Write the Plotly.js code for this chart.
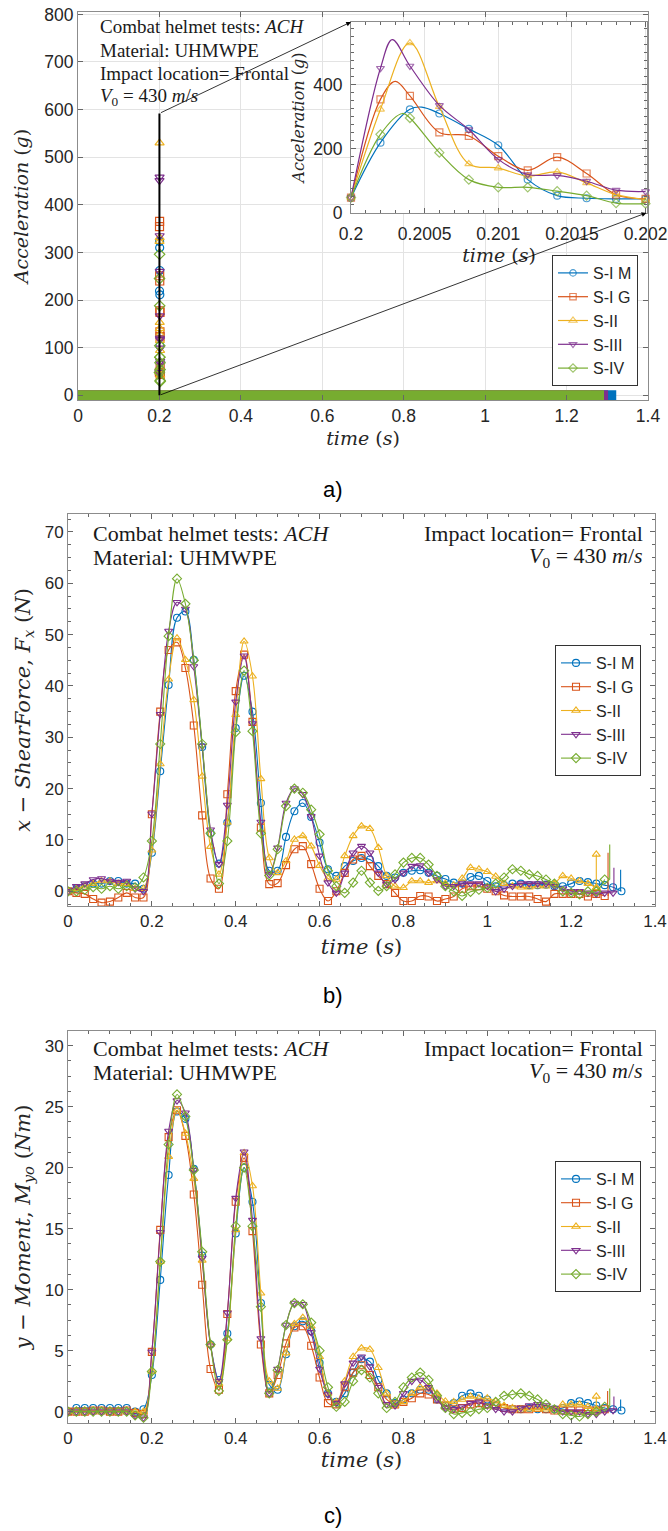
<!DOCTYPE html>
<html><head><meta charset="utf-8">
<script src="https://cdn.plot.ly/plotly-3.0.1.min.js"></script>
<style>html,body{margin:0;padding:0;background:#fff}#chart{width:668px;height:1531px}</style>
</head><body><div id="chart"></div>
<script>
// ---------------- DATA ----------------
const seriesNames = ['S-I M','S-I G','S-II','S-III','S-IV'];

// shared time grid for panels b) and c) (s)
const tGrid = [0,0.02,0.04,0.06,0.08,0.1,0.12,0.14,0.16,0.18,0.2,0.22,0.24,0.26,0.28,0.3,0.32,0.34,0.36,0.38,0.4,0.42,0.44,0.46,0.48,0.5,0.52,0.54,0.56,0.58,0.6,0.62,0.64,0.66,0.68,0.7,0.72,0.74,0.76,0.78,0.8,0.82,0.84,0.86,0.88,0.9,0.92,0.94,0.96,0.98,1,1.02,1.04,1.06,1.08,1.1,1.12,1.14,1.16,1.18,1.2,1.22,1.24,1.26,1.28,1.3,1.32];

// b) x - shear force Fx (N)
const bSIM  = [0,0.5,1,1.5,1.5,2,2,1.5,1.5,0.5, 7.5,23.4,40.2,53.3,54.5,45.1,28.1,11.3,5.4,13.4, 31.8,42,35,17.2,4,4,10.6,15.6,17.2,14.5, 9.5,4.3,3,4.9,5.9,6.5,6.2,4.9,3,2.7, 3.6,4,4.1,3.6,3,2.4,1.7,1.5,2.8,3, 2,1,1.2,1.5,1.5,1.2,1.2,1.3,1,1, 1.5,2,1.8,1.5,1.2,0.8,0];
const bSIG  = [0,-0.3,-0.5,-1.5,-2.2,-2,-1.2,-0.3,-1.2,-1.2, 15,35,47,48.5,43.5,32.3,14.8,2.5,0.5,18.9, 39,46.1,33,12.4,1.4,1.6,5.1,8.2,8.8,5.3, 0.5,-1.9,0,3.6,6.2,6.9,4.9,3,1.4,-0.3, -1.9,-1.9,-0.9,-1,-1.9,-1.5,-1,0.5,1,1, 0.5,0,-0.8,-1,-1,-1,-1.5,-2,-0.5,-0.5, -0.5,-0.5,-1,-0.5,-0.9,null,null];
const bSII  = [0,0.5,1,1.5,2,2,1.5,1.5,0.5,0.5, 8,24.8,41.3,49.3,45.1,37.3,22.4,8.7,3.3,13.4, 34.4,48.7,41.9,21.9,6.5,3.6,5.9,10.1,10.8,8.8, 5,2.5,2.3,6.9,10.8,12.7,12.2,8.5,3,1, 0.7,2,2,1.7,2,1.5,1.2,2.5,4.6,4.3, 3.8,2.9,1.5,1,0.8,0.8,1,1,1.5,3, 2.5,2,1.5,0.7,null,null,null];
const bSIII = [0,1,1.5,2.3,2.5,2,1.8,2,0.5,0, 15.1,34.5,50.7,56.3,55,43.8,28.3,12,5.3,16.8, 36.9,45.9,32.7,13.5,3.3,8.5,17.2,20,18.9,14.6, 6.9,1.7,-0.3,3.6,7.5,8.8,7.5,3.6,1.4,2.3, 3.6,4.9,5,3.6,2.3,1,1,1.5,1.5,1.5, 1,0,0.5,1,1.5,1.5,1.5,1.5,1,0.5, 0,0,-0.3,-0.5,-0.3,-0.3,null];
const bSIV  = [0,0,0.3,0.8,0.5,1,0.5,1,0.8,2.7, 9.8,28.7,49.7,60.9,56,45,28.7,11.3,1.5,9.8, 31,43,31.2,11.3,3.1,8.2,16.6,20,19.2,15.9, 11.1,4,1,-0.3,1.7,4,1.7,0.1,1,3.3, 5.6,6.5,6.5,5.2,3,1,0,-0.9,-0.1,0.3, 0.7,1.5,2.7,4.3,4,3.3,3,2.3,1.5,0, -0.3,-0.6,0,0,2.3,null,null];
// end-of-record spikes in b)
const bSpikeTime = [1.318,1.288,1.26,1.302,1.292];
const bSpikeBase = [0,-0.9,0.7,-0.3,2.3];
const bSpikePeak = [4.2,7.5,7.2,4.6,9.1];

// c) y - moment Myo (Nm)
const cSIM  = [0,0.3,0.3,0.3,0.3,0.3,0.3,0.3,0,0.2, 3,10.8,19.4,24.6,24,19.9,12.8,5.5,2.6,6.4, 14.6,20,17.2,8.9,2.2,1.8,4.7,7,7.4,6.6, 4,1.5,0.8,1.5,3.2,4.3,4.1,2.6,1.5,0.7, 1,1.5,1.8,1.8,1,0.5,0.7,1.3,1.5,1.3, 1,0.5,0.3,0.2,0.2,0.3,0.2,0.2,0.2,0.3, 0.7,0.85,0.7,0.5,0.3,0.2,0.1];
const cSIG  = [0,0,0,0.1,0.1,0,0,0.1,-0.1,-0.2, 4.9,14.9,22.5,24.7,22.6,17.8,10.4,3.5,1.8,8, 17.2,20.8,14.8,5.5,1.5,3,5.6,6.9,7,5.4, 2.8,0.7,0.6,2,3.2,3.8,3,2,1,0.6, 0.8,1.1,1.5,1.4,1,0.5,0.2,0.3,0.6,0.7, 0.6,0.5,0.3,0.2,0.2,0.2,0.3,0.2,0.1,0.1, 0.1,0.1,0.1,0.1,0.2,null,null];
const cSII  = [0,0.1,0.1,0.1,0.1,0.1,0.1,0.1,0,0, 3.3,12.3,20.9,24.7,22.8,19.1,12.4,5.5,2.3,6, 14.9,21.2,18.5,9.7,2.5,1.9,4.8,7.2,7.7,7, 4.5,1.5,0.8,2.5,4.5,5.2,5.1,3.6,1.5,0.5, 0.8,1.5,2,2,1.5,0.85,0.8,1,1.25,1.1, 1.1,0.85,0.5,0.3,0.2,0.2,0.2,0.2,0.2,0.6, 0.6,0.6,0.4,0.2,null,null,null];
const cSIII = [0,0,0,0,0,0,0,0,-0.3,-0.5, 4.9,14.7,23,25.5,24.5,19.8,12.6,5.4,2.5,8.1, 17.5,21.3,15.7,6,1.5,3.5,7.1,8.9,8.8,6.5, 3.5,1.4,0.7,2.3,4,4.5,3.7,2,0.6,0.5, 1.5,2.5,2.6,2,1,0.3,0.2,0.4,0.7,0.8, 0.5,0.2,0,0,0.3,0.5,0.6,0.5,0.3,0, 0,0,-0.2,-0.2,0,0.1,null];
const cSIV  = [0,0,0,0,0,0,0,0,-0.3,-0.5, 3.3,12.3,21.9,26,24.2,19.8,13.1,5.5,1.7,5.9, 15.2,20,15.2,8.6,1.5,3.4,7.1,8.9,8.8,7.3, 5,2,0.4,0.8,2.5,3.4,2.8,1.5,0.3,0.8, 2,2.8,3.2,2.6,1.3,0.3,-0.2,-0.1,0,0.2, 0.3,0.8,1.3,1.4,1.5,1.3,1,0.6,0.2,-0.2, -0.3,-0.4,-0.2,0,0.4,null,null];
const cSpikeTime = [1.318,1.287,1.26,1.302,1.292];
const cSpikeBase = [0.1,0.2,0.2,0.1,0.4];
const cSpikePeak = [1.0,1.7,1.25,1.25,1.9];

// a) acceleration (g): zoomed window 0.2 - 0.202 s
const insetTime = [0.2,0.2002,0.2004,0.2006,0.2008,0.201,0.2012,0.2014,0.2016,0.2018,0.202];
const iSIM  = [47,219,323,310,262,211,104,54,46,44,44];
const iSIG  = [48,354,365,251,240,177,133,174,123,57,44];
const iSII  = [48,323,530,331,153,140,115,128,94,57,42];
const iSIII = [48,451,458,335,260,167,120,117,99,71,67];
const iSIV  = [48,245,296,188,104,80,80,68,54,31,29];
const insetPeakTime  = [0.20048,0.2003,null,0.20028,0.20035];
const insetPeakValue = [330,410,null,540,310];
// a) baseline (~0 g) record outside the impact, ending times
const accBaseLevel = [0,0,0,0,0];
const accRecordEnd = [1.322,1.288,1.26,1.302,1.292];

// tick labels
const insetTickVals = [0.2,0.2005,0.201,0.2015,0.202];
const insetTickText = ['0.2','0.2005','0.201','0.2015','0.202'];

// ---------------- STYLE ----------------
const W = 668, H = 1531;
const fx = p => p / W, fy = p => 1 - p / H;
const colors  = ['#0072BD','#D95319','#EDB120','#7E2F8E','#77AC30'];
const symbols = ['circle-open','square-open','triangle-up-open','triangle-down-open','diamond-open'];
const SANS = 'Liberation Sans, Arial, sans-serif';
const SERIF = 'Liberation Serif, Times New Roman, serif';
const MATH = 'DejaVu Serif, serif';
const tickFont  = {family: SANS, size: 17, color: '#262626'};
const tickFontA = {family: SANS, size: 17.5, color: '#262626'};
const titleFontA = {family: MATH, size: 19, color: '#262626'};
const titleFontI = {family: MATH, size: 16, color: '#262626'};
const titleFont  = {family: MATH, size: 21, color: '#262626'};

const bSeries = [bSIM,bSIG,bSII,bSIII,bSIV];
const cSeries = [cSIM,cSIG,cSII,cSIII,cSIV];
const iSeries = [iSIM,iSIG,iSII,iSIII,iSIV];

const traces = [];
// panel a: baseline band
for (let i = 0; i < 5; i++) {
  traces.push({x:[0, accRecordEnd[i]], y:[accBaseLevel[i], accBaseLevel[i]], xaxis:'x', yaxis:'y',
    mode:'lines', line:{color:colors[i], width:10}, showlegend:false, hoverinfo:'skip'});
}
// panel a: impact markers at t = 0.2 s
for (let i = 0; i < 5; i++) {
  traces.push({x:insetTime, y:iSeries[i], xaxis:'x', yaxis:'y', mode:'markers',
    marker:{symbol:symbols[i], color:colors[i], size:8, line:{width:1.2, color:colors[i]}},
    showlegend:false});
}
// inset
for (let i = 0; i < 5; i++) {
  const pts = insetTime.map((t, k) => [t, iSeries[i][k], 7]);
  if (insetPeakTime[i] !== null) pts.push([insetPeakTime[i], insetPeakValue[i], 0]);
  pts.sort((a, b) => a[0] - b[0]);
  traces.push({x:pts.map(p => p[0]), y:pts.map(p => p[1]), xaxis:'x2', yaxis:'y2',
    mode:'lines+markers', line:{color:colors[i], width:1.2, shape:'spline', smoothing:1},
    marker:{symbol:symbols[i], color:colors[i], size:pts.map(p => p[2]), line:{width:1.2, color:colors[i]}},
    name:seriesNames[i], legend:'legend', cliponaxis:false});
}
// panels b and c
function panel(series, spT, spB, spP, xa, ya, lg) {
  for (let i = 0; i < 5; i++) {
    traces.push({x:tGrid, y:series[i], xaxis:xa, yaxis:ya, mode:'lines+markers',
      line:{color:colors[i], width:1.1, shape:'spline', smoothing:1},
      marker:{symbol:symbols[i], color:colors[i], size:7, line:{width:1.1, color:colors[i]}},
      name:seriesNames[i], legend:lg});
    traces.push({x:[spT[i], spT[i]], y:[spB[i], spP[i]], xaxis:xa, yaxis:ya,
      mode: i === 2 ? 'lines+markers' : 'lines',
      line:{color:colors[i], width:1.1},
      marker:{symbol:symbols[i], color:colors[i], size:7, line:{width:1.1, color:colors[i]}},
      showlegend:false, hoverinfo:'skip'});
  }
}
panel(bSeries, bSpikeTime, bSpikeBase, bSpikePeak, 'x3', 'y3', 'legend2');
panel(cSeries, cSpikeTime, cSpikeBase, cSpikePeak, 'x4', 'y4', 'legend3');

const baseAxis = {ticks:'inside', ticklen:5, tickwidth:1, tickcolor:'#666', showline:true, mirror:'ticks',
  linecolor:'#8c8c8c', linewidth:1, zeroline:false, tickfont:tickFont, showgrid:false};

const legendStyle = {xanchor:'left', bgcolor:'#fff', bordercolor:'#333', borderwidth:1,
  font:{family:SANS, size:16, color:'#262626'}, tracegroupgap:0};

const layout = {
  width:W, height:H, margin:{l:0,r:0,t:0,b:0},
  paper_bgcolor:'#fff', plot_bgcolor:'#fff',
  font:{family:SANS, color:'#262626'},
  showlegend:true,
  xaxis: Object.assign({}, baseAxis, {domain:[fx(78), fx(648)], range:[0,1.4], dtick:0.2, tick0:0,
    showgrid:true, gridcolor:'#e3e3e3', anchor:'y', tickfont:tickFontA,
    title:{text:'<i>time</i> (<i>s</i>)', font:titleFontA, standoff:6}}),
  yaxis: Object.assign({}, baseAxis, {domain:[fy(400), fy(12)], range:[-10,805], dtick:100, tick0:0,
    showgrid:true, gridcolor:'#e3e3e3', anchor:'x', tickfont:tickFontA,
    title:{text:'<i>Acceleration</i> (<i>g</i>)', font:titleFontA, standoff:10}}),
  xaxis2: Object.assign({}, baseAxis, {domain:[fx(351), fx(647)], range:[0.2,0.20201],
    tickvals:insetTickVals, ticktext:insetTickText, showgrid:true, gridcolor:'#e3e3e3', anchor:'y2',
    tickfont:tickFontA, ticklabelstandoff:5,
    minor:{dtick:0.0001, ticklen:3, ticks:'inside', tickcolor:'#666'},
    title:{text:'<i>time</i> (<i>s</i>)', font:titleFontA, standoff:0}}),
  yaxis2: Object.assign({}, baseAxis, {domain:[fy(213), fy(22)], range:[0,595], dtick:200, tick0:0,
    showgrid:true, gridcolor:'#e3e3e3', anchor:'x2', tickfont:tickFontA, ticklabelstandoff:4,
    minor:{dtick:25, ticklen:3, ticks:'inside', tickcolor:'#666'},
    title:{text:'<i>Acceleration</i> (<i>g</i>)', font:titleFontI, standoff:4}}),
  xaxis3: Object.assign({}, baseAxis, {domain:[fx(68), fx(655)], range:[0,1.4], dtick:0.2, tick0:0, anchor:'y3',
    minor:{dtick:0.05, ticklen:3, ticks:'inside', tickcolor:'#666'},
    title:{text:'<i>time</i> (<i>s</i>)', font:titleFont, standoff:8}}),
  yaxis3: Object.assign({}, baseAxis, {domain:[fy(906), fy(514)], range:[-2.86,73.5], dtick:10, tick0:0, anchor:'x3',
    minor:{dtick:2.5, ticklen:3, ticks:'inside', tickcolor:'#666'},
    title:{text:'<i>x</i> \u2212 <i>ShearForce</i>, <i>F<sub>x</sub></i> (<i>N</i>)', font:titleFont, standoff:8}}),
  xaxis4: Object.assign({}, baseAxis, {domain:[fx(68), fx(655)], range:[0,1.4], dtick:0.2, tick0:0, anchor:'y4',
    minor:{dtick:0.05, ticklen:3, ticks:'inside', tickcolor:'#666'},
    title:{text:'<i>time</i> (<i>s</i>)', font:titleFont, standoff:4}}),
  yaxis4: Object.assign({}, baseAxis, {domain:[fy(1423), fy(1031)], range:[-0.93,31.2], dtick:5, tick0:0, anchor:'x4',
    minor:{dtick:1.25, ticklen:3, ticks:'inside', tickcolor:'#666'},
    title:{text:'<i>y</i> \u2212 <i>Moment</i>, <i>M<sub>yo</sub></i> (<i>Nm</i>)', font:titleFont, standoff:8}}),
  legend:  Object.assign({x:fx(552), y:fy(386), yanchor:'bottom'}, legendStyle),
  legend2: Object.assign({x:fx(555), y:fy(645), yanchor:'top'}, legendStyle),
  legend3: Object.assign({x:fx(555), y:fy(1161), yanchor:'top'}, legendStyle),
  shapes: [{type:'line', xref:'x', yref:'y', x0:0.2, x1:0.2, y0:0, y1:592, line:{color:'#000', width:2}, layer:'above'}],
  annotations: []
};

const A = layout.annotations;
// zoom arrows
A.push({xref:'x', yref:'y', axref:'x', ayref:'y', x:0.6706, y:784, ax:0.2, ay:592, text:'', showarrow:true,
  arrowhead:2, arrowsize:1.2, arrowwidth:0.8, arrowcolor:'#000', standoff:0});
A.push({xref:'x', yref:'y', axref:'x', ayref:'y', x:1.396, y:383, ax:0.2, ay:0, text:'', showarrow:true,
  arrowhead:2, arrowsize:1.2, arrowwidth:0.8, arrowcolor:'#000', standoff:0});

function txt(text, xpx, ypx, anchor, size) {
  A.push({xref:'paper', yref:'paper', x:fx(xpx), y:fy(ypx), xanchor:anchor, yanchor:'middle', text:text,
    showarrow:false, font:{family:SERIF, size:size, color:'#1a1a1a'}});
}
const l1 = 'Combat helmet tests: <i>ACH</i>', l2 = 'Material: UHMWPE', l3 = 'Impact location= Frontal',
      l4 = '<i>V</i><sub>0</sub> = 430 <i>m</i>/<i>s</i>';
txt(l1, 98, 27, 'left', 19); txt(l2, 98, 50, 'left', 19); txt(l3, 98, 73, 'left', 19); txt(l4, 98, 97, 'left', 19);
txt(l1, 91, 533, 'left', 22); txt(l2, 91, 557, 'left', 22); txt(l3, 645, 533, 'right', 22); txt(l4, 645, 557, 'right', 22);
txt(l1, 91, 1048, 'left', 22); txt(l2, 91, 1072, 'left', 22); txt(l3, 645, 1048, 'right', 22); txt(l4, 645, 1072, 'right', 22);

function cap(text, ypx) {
  A.push({xref:'paper', yref:'paper', x:fx(333), y:fy(ypx), xanchor:'center', yanchor:'middle', text:text,
    showarrow:false, font:{family:SANS, size:22, color:'#000'}});
}
cap('a)', 490); cap('b)', 995); cap('c)', 1515);

Plotly.newPlot('chart', traces, layout, {displayModeBar:false, staticPlot:true});
</script></body></html>
